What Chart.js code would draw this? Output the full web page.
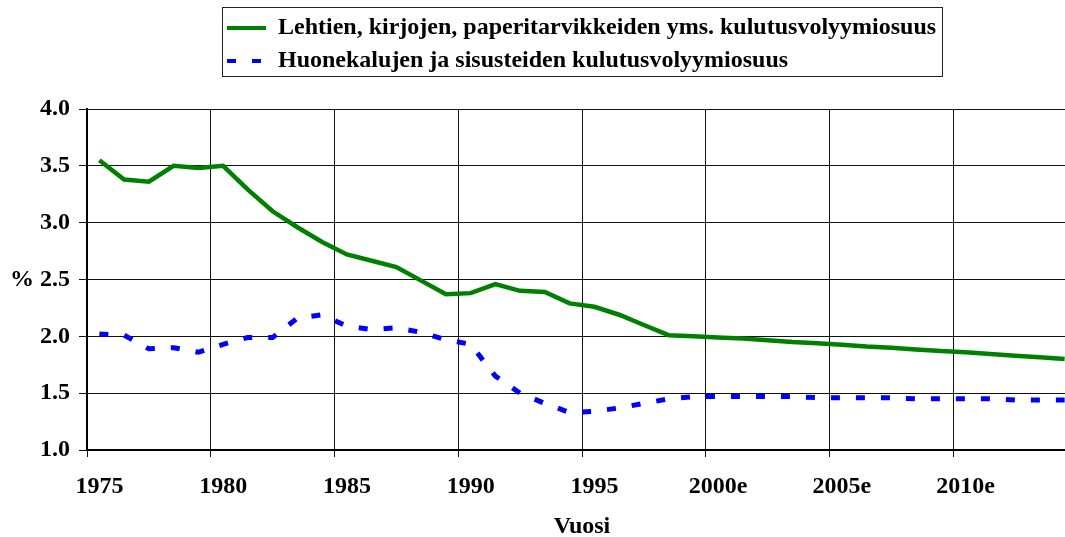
<!DOCTYPE html>
<html>
<head>
<meta charset="utf-8">
<script src="https://cdn.jsdelivr.net/npm/chart.js@4.4.1/dist/chart.umd.min.js"></script>
<style>
  html, body { margin: 0; padding: 0; background: #fff; overflow: hidden; }
  #wrap { width: 1077px; height: 537px; }
</style>
</head>
<body>
<div id="wrap"><canvas id="c" width="1077" height="537"></canvas></div>
<script>
const years = [1975,1976,1977,1978,1979,1980,1981,1982,1983,1984,
               1985,1986,1987,1988,1989,1990,1991,1992,1993,1994,
               1995,1996,1997,1998,1999,2000,2001,2002,2003,2004,
               2005,2006,2007,2008,2009,2010,2011,2012,2013,2014];

const paperShare = [3.55,3.38,3.36,3.50,3.48,3.50,3.29,3.10,2.96,2.83,
                    2.72,2.665,2.61,2.49,2.37,2.38,2.46,2.40,2.39,2.29,
                    2.26,2.19,2.10,2.01,2.00,1.99,1.98,1.965,1.95,1.94,
                    1.925,1.91,1.90,1.885,1.87,1.86,1.845,1.83,1.815,1.80];

const furnitureShare = [2.02,2.01,1.89,1.90,1.86,1.93,1.99,1.99,2.16,2.19,
                        2.09,2.06,2.075,2.035,1.97,1.93,1.65,1.50,1.41,1.33,
                        1.34,1.37,1.41,1.45,1.47,1.47,1.47,1.47,1.47,1.46,
                        1.46,1.46,1.46,1.45,1.45,1.45,1.45,1.44,1.44,1.44];

const seriesNames = [
  'Lehtien, kirjojen, paperitarvikkeiden yms. kulutusvolyymiosuus',
  'Huonekalujen ja sisusteiden kulutusvolyymiosuus'
];

const xTickYears  = [1975,1980,1985,1990,1995,2000,2005,2010,2015];
const xTickLabels = ['1975','1980','1985','1990','1995','2000e','2005e','2010e',''];
const yTickValues = [1.0,1.5,2.0,2.5,3.0,3.5,4.0];
const yUnitLabel = '%';
const xTitle = 'Vuosi';

const FONT = "'Liberation Serif', 'Times New Roman', serif";
const FS = 24;

const legendFrame = {
  id: 'legendFrame',
  afterLayout(chart) {
    const lg = chart.legend;
    if (!lg) return;
    lg.left = 218;
    lg.top = 7;
  },
  afterDraw(chart) {
    const ctx = chart.ctx;
    ctx.save();
    ctx.strokeStyle = '#222';
    ctx.lineWidth = 1;
    ctx.strokeRect(222.5, 7.5, 720, 69);
    ctx.restore();
  }
};

Chart.defaults.color = '#000';
Chart.defaults.font.family = FONT;

new Chart(document.getElementById('c'), {
  type: 'line',
  data: {
    datasets: [
      {
        label: seriesNames[0],
        data: years.map((y, i) => ({ x: y, y: paperShare[i] })),
        borderColor: '#008000',
        backgroundColor: '#008000',
        borderWidth: 4.5,
        pointRadius: 0,
        tension: 0,
        fill: false
      },
      {
        label: seriesNames[1],
        data: years.map((y, i) => ({ x: y, y: furnitureShare[i] })),
        borderColor: '#0000ff',
        backgroundColor: '#0000ff',
        borderWidth: 5,
        borderDash: [9, 16],
        pointRadius: 0,
        tension: 0,
        fill: false
      }
    ]
  },
  options: {
    responsive: false,
    animation: false,
    devicePixelRatio: 1,
    layout: { padding: { top: 33, left: 0, right: 0, bottom: 0 } },
    plugins: {
      tooltip: { enabled: false },
      legend: {
        display: true,
        position: 'top',
        align: 'start',
        labels: {
          usePointStyle: true,
          pointStyle: 'line',
          pointStyleWidth: 39,
          padding: 9,
          color: '#000',
          font: { family: FONT, size: FS, weight: 'bold' },
          generateLabels(chart) {
            const items = Chart.defaults.plugins.legend.labels.generateLabels(chart);
            items.forEach((it, i) => {
              const ds = chart.data.datasets[i];
              it.pointStyle = 'line';
              it.strokeStyle = ds.borderColor;
              it.fillStyle = ds.borderColor;
              it.lineWidth = 4;
              it.lineDash = ds.borderDash || [];
              it.lineDashOffset = 0;
            });
            return items;
          }
        }
      }
    },
    scales: {
      x: {
        type: 'linear',
        min: xTickYears[0] - 0.5,
        max: xTickYears[xTickYears.length - 1] - 0.5,
        afterBuildTicks(scale) {
          scale.ticks = xTickYears.map(y => ({ value: y - 0.5 }));
        },
        afterFit(scale) {
          scale.height = 87;
          scale.paddingLeft = 0;
          scale.paddingRight = 0;
        },
        ticks: {
          autoSkip: false,
          maxRotation: 0,
          labelOffset: 12.4,
          padding: 15,
          font: { family: FONT, size: FS, weight: 'bold' },
          callback(value, index) { return xTickLabels[index] || ''; }
        },
        grid: {
          color: '#111',
          lineWidth: 1,
          drawTicks: true,
          tickLength: 7
        },
        border: { display: true, color: '#000', width: 2 },
        title: {
          display: true,
          text: xTitle,
          font: { family: FONT, size: FS, weight: 'bold', lineHeight: 0.85 },
          padding: { top: 0, bottom: 0 }
        }
      },
      y: {
        type: 'linear',
        min: yTickValues[0],
        max: yTickValues[yTickValues.length - 1],
        afterBuildTicks(scale) {
          scale.ticks = yTickValues.map(v => ({ value: v }));
        },
        afterFit(scale) { scale.width = 87; },
        ticks: {
          padding: 9,
          font: { family: FONT, size: FS, weight: 'bold' },
          callback(value) {
            const s = Number(value).toFixed(1);
            return value === 2.5 ? yUnitLabel + ' ' + s : s;
          }
        },
        grid: {
          color: '#111',
          lineWidth: 1,
          drawTicks: true,
          tickLength: 8
        },
        border: { display: true, color: '#000', width: 2 }
      }
    }
  },
  plugins: [legendFrame]
});
</script>
</body>
</html>
